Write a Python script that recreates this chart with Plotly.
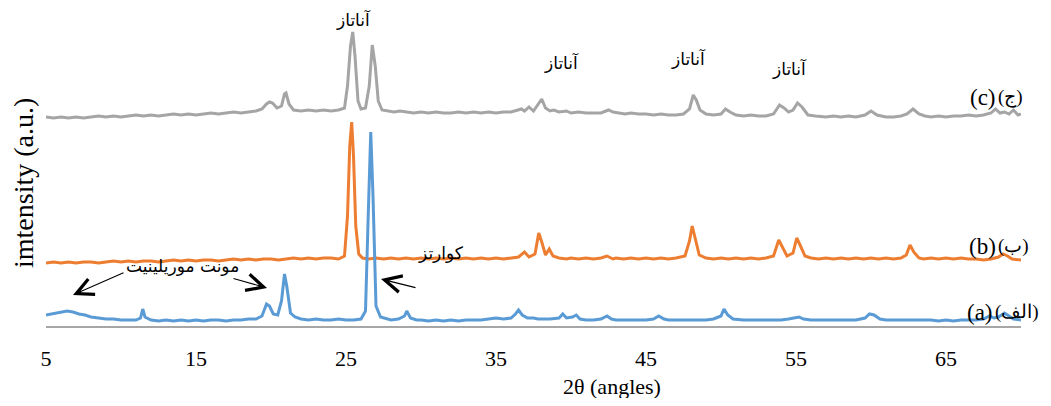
import plotly.graph_objects as go

# ---- data (2θ in degrees, intensity in arbitrary units, offsets included) ----
x_c = [5, 5.5, 6, 6.5, 7, 7.5, 8, 8.5, 9, 9.5, 10, 10.5, 11, 11.5, 12, 12.5, 13, 13.5, 14, 14.5,
       15, 15.5, 16, 16.5, 17, 17.5, 18, 18.5, 19, 19.4, 19.7, 19.9, 20.1, 20.4, 20.7, 20.9, 21.0, 21.2,
       21.5, 22, 22.5, 23, 23.5, 24, 24.5, 24.9, 25.1, 25.3, 25.45, 25.6, 25.8, 26.0, 26.3, 26.55, 26.75,
       26.95, 27.15, 27.4, 27.8, 28.2, 28.6, 29, 29.5, 30, 30.5, 31, 31.5, 32, 32.5, 33, 33.5, 34, 34.5,
       35, 35.5, 36, 36.5, 36.7, 36.9, 37.2, 37.5, 37.8, 38.05, 38.3, 38.6, 38.85, 39.2, 39.7, 40, 40.5,
       41, 41.5, 42, 42.5, 42.8, 43.2, 43.6, 44, 44.5, 45, 45.5, 46, 46.5, 47, 47.5, 47.9, 48.15, 48.35,
       48.6, 49, 49.5, 50, 50.3, 50.6, 51, 51.5, 52, 52.5, 53, 53.5, 53.9, 54.2, 54.5, 54.8, 55.1, 55.4,
       55.8, 56.3, 57, 57.5, 58, 58.5, 59, 59.6, 60.0, 60.4, 61, 61.5, 62, 62.4, 62.8, 63.2, 63.6, 64,
       64.5, 65, 65.5, 66, 66.5, 67, 67.5, 68.0, 68.3, 68.6, 68.9, 69.2, 69.5, 69.8, 70]
y_c = [209, 208, 209, 208, 209, 208, 209, 210, 209, 210, 209, 210, 211, 210, 211, 210, 211, 212, 211, 212,
       211, 212, 213, 212, 213, 214, 213, 214, 215, 217, 222, 224, 223, 218, 220, 232, 233, 222,
       216, 215, 216, 215, 216, 215, 216, 218, 240, 280, 294, 270, 225, 217, 218, 240, 281,
       260, 225, 216, 215, 214, 215, 214, 213, 214, 213, 214, 213, 213, 214, 213, 214, 213, 214,
       213, 214, 214, 216, 217, 215, 219, 215, 222, 227, 218, 215, 216, 214, 215, 213, 214,
       213, 213, 213, 216, 214, 213, 212, 213, 212, 212, 211, 212, 211, 211, 212, 217, 231, 226,
       216, 212, 211, 212, 217, 214, 211, 210, 211, 210, 210, 212, 221, 218, 214, 216, 223, 219,
       211, 210, 209, 210, 209, 210, 209, 211, 215, 211, 209, 209, 210, 212, 217, 212, 210, 209,
       210, 209, 210, 210, 211, 210, 211, 213, 217, 213, 214, 212, 216, 211, 212]

x_b = [5, 5.5, 6, 6.5, 7, 7.5, 8, 8.5, 9, 9.5, 10, 10.5, 11, 11.5, 12, 12.5, 13, 13.5, 14, 14.5,
       15, 15.5, 16, 16.5, 17, 17.5, 18, 18.5, 19, 19.5, 20, 20.5, 21, 21.5, 22, 22.5, 23, 23.5, 24,
       24.5, 24.9, 25.1, 25.25, 25.38, 25.5, 25.65, 25.85, 26.1, 26.5, 27, 27.5, 28, 28.5, 29, 29.5,
       30, 30.5, 31, 31.5, 32, 32.5, 33, 33.5, 34, 34.5, 35, 35.5, 36, 36.5, 36.9, 37.2, 37.6, 37.85,
       38.05, 38.3, 38.55, 38.8, 39.2, 39.7, 40, 40.5, 41, 41.5, 42, 42.4, 42.8, 43, 43.5, 44, 44.5,
       45, 45.5, 46, 46.5, 47, 47.6, 47.9, 48.08, 48.3, 48.55, 49, 49.5, 50, 50.5, 51, 51.5, 52, 52.5,
       53, 53.5, 53.85, 54.05, 54.4, 54.8, 55.05, 55.3, 55.6, 56, 56.5, 57, 57.5, 58, 58.5, 59, 59.5,
       60, 60.5, 61, 61.5, 62, 62.35, 62.6, 62.85, 63.2, 63.5, 64, 64.5, 65, 65.5, 66, 66.5, 67, 67.5,
       68, 68.5, 68.8, 69.1, 69.4, 70]
y_b = [63, 64, 63, 64, 63, 64, 64, 63, 64, 65, 64, 65, 64, 65, 65, 64, 65, 66, 65, 66,
       65, 66, 66, 65, 66, 67, 66, 67, 66, 67, 67, 66, 67, 68, 67, 68, 67, 68, 68,
       67, 70, 110, 180, 204, 170, 100, 72, 68, 67, 68, 67, 68, 67, 68, 67,
       68, 67, 68, 67, 68, 67, 68, 67, 68, 67, 68, 67, 68, 69, 74, 69, 72, 93,
       84, 71, 77, 70, 68, 67, 68, 67, 68, 67, 68, 70, 67, 68, 67, 68, 67,
       68, 67, 68, 67, 68, 70, 85, 100, 85, 71, 68, 67, 68, 67, 68, 67, 68, 67,
       68, 70, 86, 80, 70, 73, 88, 80, 70, 68, 67, 68, 67, 68, 67, 68, 67,
       68, 67, 68, 67, 68, 71, 81, 74, 68, 67, 68, 67, 68, 67, 68, 67, 67, 66,
       67, 69, 72, 70, 67, 66]

x_a = [5, 5.3, 5.6, 6.0, 6.4, 6.8, 7.2, 7.6, 8.0, 8.5, 9, 9.5, 10, 10.5, 11, 11.3, 11.45, 11.6, 12,
       12.5, 13, 13.5, 14, 14.5, 15, 15.5, 16, 16.5, 17, 17.5, 18, 18.5, 19, 19.4, 19.7, 19.9, 20.15,
       20.45, 20.7, 20.9, 21.05, 21.3, 21.6, 22, 22.5, 23, 23.5, 24, 24.5, 25, 25.5, 26, 26.3, 26.5,
       26.65, 26.8, 27, 27.3, 27.7, 28, 28.5, 28.9, 29.05, 29.3, 29.7, 30, 30.5, 31, 31.5, 32, 32.5,
       33, 33.5, 34, 34.5, 35, 35.5, 36, 36.3, 36.5, 36.75, 37.1, 37.5, 37.8, 38.2, 38.6, 39.2, 39.45,
       39.7, 40.1, 40.35, 40.6, 41, 41.5, 42, 42.4, 42.7, 43, 43.5, 44, 44.5, 45, 45.5, 45.85, 46.2,
       46.5, 47, 47.5, 48, 48.5, 49, 49.5, 50, 50.2, 50.45, 50.8, 51.2, 51.5, 52, 52.5, 53, 53.5, 54,
       54.5, 54.9, 55.2, 55.5, 56, 56.5, 57, 57.5, 58, 58.5, 59, 59.6, 59.9, 60.2, 60.6, 61, 61.5, 62,
       62.5, 63, 63.5, 64, 64.5, 65, 65.5, 66, 66.5, 67, 67.5, 67.9, 68.2, 68.5, 68.9, 69.2, 69.5, 70]
y_a = [11, 12, 13, 14, 15, 14, 12, 11, 9, 8, 7, 7, 6, 6, 6, 8, 17, 9, 6,
       5, 6, 5, 6, 5, 6, 5, 6, 6, 5, 6, 6, 7, 7, 10, 22, 20, 12,
       11, 25, 52, 40, 13, 9, 7, 6, 7, 6, 6, 7, 6, 6, 7, 15, 120,
       194, 130, 20, 9, 7, 6, 7, 10, 15, 8, 6, 6, 5, 6, 5, 6, 5,
       6, 6, 6, 7, 8, 7, 8, 12, 16, 11, 8, 8, 7, 7, 7, 8, 12,
       8, 9, 11, 7, 6, 6, 7, 10, 7, 6, 6, 6, 6, 6, 7, 10, 7,
       6, 6, 6, 6, 6, 6, 7, 10, 17, 11, 7, 6, 6, 6, 6, 6, 6, 6,
       7, 8, 9, 7, 6, 6, 6, 6, 6, 6, 6, 8, 12, 11, 7, 6, 6, 6,
       6, 6, 6, 6, 5, 6, 5, 6, 6, 6, 7, 10, 8, 9, 13, 10, 7, 6]

x_ticks = [5, 15, 25, 35, 45, 55, 65]
x_title = "2θ (angles)"
y_title = "imtensity (a.u.)"
phase_anatase = "آناتاز"
phase_quartz = "کوارتز"
phase_mont = "مونت موریلینیت"
sample_latin = ["(a)", "(b)", "(c)"]
sample_persian = ["(\u200eالف\u200e)", "(\u200eب\u200e)", "(\u200eج\u200e)"]

# ---- geometry: target-image pixels; the page body adds an 8 px margin ----
OFF = 8
W, H = 1051 - 2 * OFF, 406 - 2 * OFF
PL, PR, PT, PB = 46, 1021, 26, 326          # plot area in target pixels
L, T = PL - OFF, PT - OFF
R = W - (PR - OFF)
B = H - (PB - OFF)
PW, PH = PR - PL, PB - PT


def P(px, py):
    """target-image pixel position -> paper coords"""
    return (px - PL) / PW, (PB - py) / PH


SERIF = "Liberation Serif, DejaVu Serif, serif"
ARAB = "DejaVu Sans, Noto Sans, sans-serif"

fig = go.Figure()
for xs, ys, col in [(x_c, y_c, "#A5A5A5"), (x_b, y_b, "#ED7D31"), (x_a, y_a, "#5B9BD5")]:
    fig.add_trace(go.Scatter(x=xs, y=ys, mode="lines",
                             line=dict(color=col, width=3), showlegend=False,
                             hoverinfo="skip"))

ann = []


def text(s, px, py, size, family, color="black", anchor="center"):
    x, y = P(px, py)
    ann.append(dict(x=x, y=y, xref="paper", yref="paper", text=s, showarrow=False,
                    font=dict(size=size, family=family, color=color),
                    xanchor=anchor, yanchor="middle"))


def arrow(hx, hy, tx, ty):
    x, y = P(hx, hy)
    ann.append(dict(x=x, y=y, xref="paper", yref="paper", text="", showarrow=True,
                    ax=tx - hx, ay=ty - hy, axref="pixel", ayref="pixel",
                    arrowhead=5, arrowsize=3, arrowwidth=1.1, arrowcolor="black"))


text(phase_anatase, 353, 20, 17, ARAB)
text(phase_anatase, 561, 63, 17, ARAB)
text(phase_anatase, 688, 58, 17, ARAB)
text(phase_anatase, 789, 68, 17, ARAB)
text(phase_mont, 182, 266, 17, ARAB)
text(phase_quartz, 441, 253, 17, ARAB)

# sample labels: latin part right-anchored, persian part left-anchored
for lat, per, px, py in [(sample_latin[2], sample_persian[2], 998, 97),
                         (sample_latin[1], sample_persian[1], 998, 246),
                         (sample_latin[0], sample_persian[0], 995, 312)]:
    text(lat, px, py, 23, SERIF, anchor="right")
    text(per, px - 2, py, 19, SERIF, anchor="left")

arrow(73, 295, 125, 272)
arrow(267, 288, 232, 278)
arrow(381, 279, 417, 288)

# axis titles as annotations to match placement
text(x_title, 612, 386, 22, SERIF)
xt, yt = P(23, 183)
ann.append(dict(x=xt, y=yt, xref="paper", yref="paper", text=y_title, showarrow=False,
                textangle=-90, font=dict(size=28, family=SERIF, color="black"),
                xanchor="center", yanchor="middle"))

fig.update_layout(
    width=W, height=H,
    margin=dict(l=L, r=R, t=T, b=B, autoexpand=False),
    paper_bgcolor="white", plot_bgcolor="white",
    annotations=ann,
    xaxis=dict(range=[5, 70], tickvals=x_ticks, ticktext=[str(v) for v in x_ticks],
               showgrid=False, zeroline=False, showline=True, linecolor="#A6A6A6",
               linewidth=2, ticks="", ticklabelstandoff=12,
               tickfont=dict(size=22, family=SERIF, color="black")),
    yaxis=dict(range=[0, 300], visible=False, showgrid=False, zeroline=False),
)

fig.write_html("out.html")
